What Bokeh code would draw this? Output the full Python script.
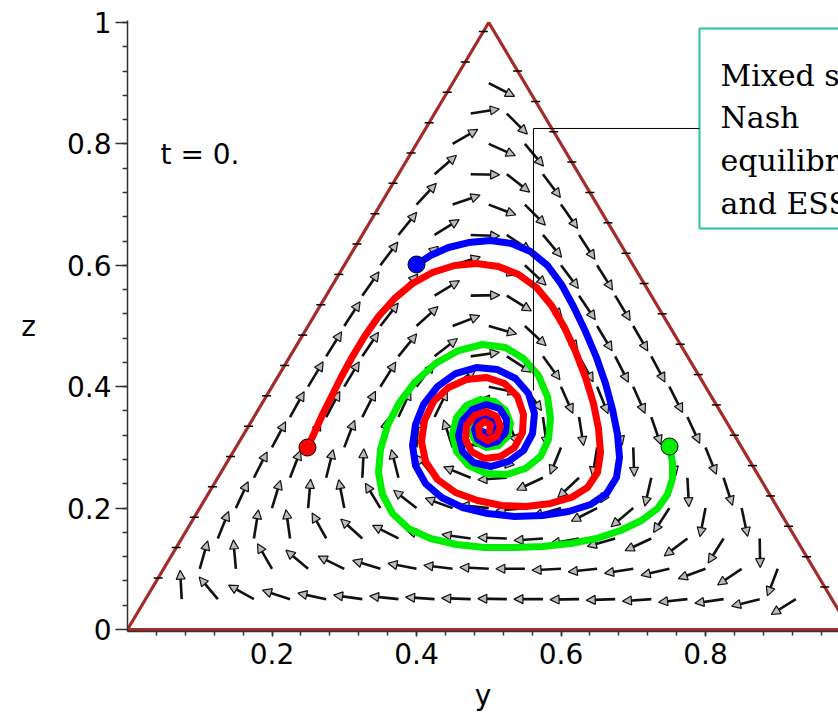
import math
from bokeh.plotting import figure
from bokeh.models import ColumnDataSource, Arrow, NormalHead, FixedTicker, Range1d
from bokeh.embed import file_html
from bokeh.resources import INLINE
from bokeh.core.properties import value

# ---------------- data ----------------
TRI_Y = [0.0, 0.5, 1.0, 0.0]
TRI_Z = [0.0, 1.0, 0.0, 0.0]

# direction field: arrow angle (degrees) for each grid row z = 0.05*c (c = 1..18), left to right
GRID_STEP = 0.05
FIELD_ANGLES = [
    [93, 130, 151, 162, 168, 172, 174, 176, 178, 179, 180, 181, 182, 184, 186, 188, 194, 212],
    [74, 95, 120, 140, 154, 163, 169, 173, 177, 180, 183, 186, 189, 193, 200, 214, 249],
    [68, 81, 98, 119, 138, 153, 164, 172, 178, 184, 190, 196, 205, 217, 238, 271],
    [65, 73, 85, 101, 121, 142, 160, 174, 185, 196, 207, 220, 237, 259, 282],
    [63, 69, 76, 87, 104, 129, 158, 184, 205, 223, 240, 257, 273, 288],
    [62, 65, 69, 76, 86, 108, 171, 226, 248, 261, 272, 283, 292],
    [61, 62, 63, 65, 64, 49, 291, 278, 279, 284, 289, 295],
    [59, 59, 58, 53, 37, 348, 305, 294, 292, 294, 297],
    [58, 56, 51, 38, 8, 327, 306, 299, 297, 298],
    [57, 52, 42, 21, 344, 317, 305, 301, 300],
    [55, 48, 31, 1, 328, 311, 304, 301],
    [53, 41, 17, 341, 317, 307, 302],
    [51, 32, 358, 326, 310, 303],
    [47, 19, 339, 315, 305],
    [41, 359, 322, 307],
    [30, 336, 310],
    [9, 315],
    [333],
]

# small boundary marks on the two slanted edges (z values)
LEFT_MARK_Z = [0.985, 0.935, 0.885, 0.835, 0.785, 0.735, 0.685, 0.635, 0.585, 0.535,
               0.485, 0.435, 0.385, 0.335, 0.285, 0.235, 0.185, 0.135, 0.085]
RIGHT_MARK_Z = [0.92, 0.87, 0.82, 0.77, 0.72, 0.67, 0.62, 0.57, 0.52, 0.47,
                0.42, 0.37, 0.32, 0.27, 0.22, 0.17, 0.12, 0.07]

BLUE_Y = [0.4000, 0.4194, 0.4443, 0.4720, 0.5024, 0.5315, 0.5578, 0.5813, 0.6007, 0.6173,
          0.6339, 0.6491, 0.6616, 0.6713, 0.6782, 0.6810, 0.6768, 0.6630, 0.6408, 0.6104,
          0.5744, 0.5356, 0.4983, 0.4637, 0.4346, 0.4125, 0.3986, 0.3945, 0.3986, 0.4097,
          0.4291, 0.4540, 0.4830, 0.5121, 0.5370, 0.5550, 0.5633, 0.5606, 0.5481, 0.5273,
          0.5024, 0.4789, 0.4637, 0.4581, 0.4637, 0.4775, 0.4969, 0.5149, 0.5246, 0.5232,
          0.5121, 0.4969, 0.4844, 0.4803, 0.4858, 0.4969, 0.5066, 0.5080, 0.4997, 0.4913]
BLUE_Z = [0.6013, 0.6161, 0.6293, 0.6375, 0.6408, 0.6359, 0.6227, 0.5997, 0.5684, 0.5321,
          0.4909, 0.4481, 0.4053, 0.3624, 0.3212, 0.2834, 0.2504, 0.2240, 0.2059, 0.1944,
          0.1878, 0.1862, 0.1911, 0.2010, 0.2175, 0.2405, 0.2702, 0.3031, 0.3377, 0.3707,
          0.4003, 0.4217, 0.4316, 0.4283, 0.4135, 0.3888, 0.3558, 0.3229, 0.2949, 0.2768,
          0.2685, 0.2751, 0.2932, 0.3196, 0.3443, 0.3624, 0.3707, 0.3641, 0.3460, 0.3245,
          0.3097, 0.3048, 0.3130, 0.3295, 0.3443, 0.3492, 0.3427, 0.3295, 0.3212, 0.3262]

RED_Y = [0.2491, 0.2588, 0.2699, 0.2824, 0.2962, 0.3114, 0.3280, 0.3474, 0.3696, 0.3945,
         0.4221, 0.4526, 0.4830, 0.5135, 0.5412, 0.5661, 0.5869, 0.6048, 0.6201, 0.6339,
         0.6450, 0.6519, 0.6547, 0.6505, 0.6367, 0.6145, 0.5855, 0.5523, 0.5177, 0.4844,
         0.4540, 0.4291, 0.4125, 0.4069, 0.4111, 0.4235, 0.4443, 0.4692, 0.4969, 0.5218,
         0.5398, 0.5481, 0.5467, 0.5356, 0.5163, 0.4941, 0.4761, 0.4678, 0.4692, 0.4803,
         0.4969, 0.5107, 0.5163, 0.5107, 0.4983, 0.4872, 0.4858, 0.4941, 0.5024, 0.5010]
RED_Z = [0.2998, 0.3245, 0.3542, 0.3838, 0.4168, 0.4497, 0.4827, 0.5156, 0.5453, 0.5700,
         0.5881, 0.5997, 0.6029, 0.5980, 0.5848, 0.5634, 0.5338, 0.4975, 0.4580, 0.4151,
         0.3723, 0.3311, 0.2916, 0.2586, 0.2339, 0.2175, 0.2076, 0.2026, 0.2043, 0.2125,
         0.2257, 0.2471, 0.2768, 0.3097, 0.3443, 0.3756, 0.3987, 0.4119, 0.4151, 0.4053,
         0.3838, 0.3542, 0.3245, 0.2998, 0.2850, 0.2817, 0.2932, 0.3130, 0.3361, 0.3525,
         0.3591, 0.3509, 0.3344, 0.3179, 0.3114, 0.3196, 0.3344, 0.3427, 0.3377, 0.3262]

GREEN_Y = [0.7502, 0.7543, 0.7543, 0.7474, 0.7336, 0.7114, 0.6824, 0.6491, 0.6132, 0.5744,
           0.5343, 0.4941, 0.4554, 0.4194, 0.3889, 0.3668, 0.3529, 0.3474, 0.3502, 0.3599,
           0.3765, 0.3986, 0.4263, 0.4581, 0.4913, 0.5232, 0.5481, 0.5689, 0.5813, 0.5855,
           0.5827, 0.5716, 0.5509, 0.5246, 0.4969, 0.4720, 0.4554, 0.4498, 0.4554, 0.4692,
           0.4886, 0.5080, 0.5232, 0.5301, 0.5260, 0.5135, 0.4969, 0.4830, 0.4747, 0.4775,
           0.4886, 0.5010, 0.5093, 0.5080, 0.4997, 0.4927]
GREEN_Z = [0.3015, 0.2751, 0.2488, 0.2224, 0.1993, 0.1796, 0.1631, 0.1499, 0.1417, 0.1367,
           0.1351, 0.1351, 0.1400, 0.1499, 0.1664, 0.1911, 0.2224, 0.2586, 0.2965, 0.3361,
           0.3740, 0.4086, 0.4382, 0.4596, 0.4695, 0.4646, 0.4464, 0.4184, 0.3838, 0.3476,
           0.3130, 0.2850, 0.2652, 0.2553, 0.2570, 0.2702, 0.2932, 0.3212, 0.3492, 0.3690,
           0.3789, 0.3756, 0.3608, 0.3394, 0.3179, 0.3031, 0.2998, 0.3081, 0.3245, 0.3427,
           0.3525, 0.3509, 0.3394, 0.3262, 0.3196, 0.3245]

X_TICKS = [0.2, 0.4, 0.6, 0.8]
X_MINOR = [0.04, 0.08, 0.12, 0.16, 0.2, 0.24, 0.28, 0.32, 0.36, 0.4, 0.44, 0.48,
           0.52, 0.56, 0.6, 0.64, 0.68, 0.72, 0.76, 0.8, 0.84, 0.88, 0.92, 0.96]
Y_TICKS = [0.0, 0.2, 0.4, 0.6, 0.8, 1.0]
Y_TICK_LABELS = {0.0: "0", 0.2: "0.2", 0.4: "0.4", 0.6: "0.6", 0.8: "0.8", 1.0: "1"}
Y_MINOR = [0.04, 0.08, 0.12, 0.16, 0.2, 0.24, 0.28, 0.32, 0.36, 0.4, 0.44, 0.48,
           0.52, 0.56, 0.6, 0.64, 0.68, 0.72, 0.76, 0.8, 0.84, 0.88, 0.92, 0.96, 1.0]

X_TITLE = "y"
Y_TITLE = "z"
ANNOT_LINES = ["Mixed strategy", "Nash", "equilibrium", "and ESS"]
TIME_TEXT = "t = 0."

# ---------------- layout ----------------
W, H = 838, 714
LB, TB, BB = 127, 20, 83
FRAME_W = W - LB
FRAME_H = H - TB - BB
PX_X = 722.5   # pixels per unit of y (horizontal)
PX_Z = 607.0   # pixels per unit of z (vertical)
Z0 = -2.0 / PX_Z

p = figure(width=W, height=H,
           x_range=Range1d(0, FRAME_W / PX_X),
           y_range=Range1d(Z0, Z0 + FRAME_H / PX_Z),
           output_backend="svg", toolbar_location=None,
           min_border_left=LB, min_border_right=0,
           min_border_top=TB, min_border_bottom=BB)
p.outline_line_color = None
p.grid.visible = False
p.background_fill_color = "white"
p.border_fill_color = "white"

FONT = "DejaVu Sans"
for ax in (p.xaxis[0], p.yaxis[0]):
    ax.axis_line_color = "#333333"
    ax.axis_line_width = 1.5
    ax.major_tick_line_color = "#333333"
    ax.minor_tick_line_color = "#333333"
    ax.major_tick_line_width = 1.5
    ax.minor_tick_line_width = 1.5
    ax.major_tick_in = 0
    ax.minor_tick_in = 0
    ax.major_label_text_font = FONT
    ax.major_label_text_font_size = "28px"
    ax.major_label_text_color = "black"
    ax.axis_label_text_font = FONT
    ax.axis_label_text_font_size = "28px"
    ax.axis_label_text_font_style = "normal"
    ax.axis_label_text_color = "black"

p.xaxis.ticker = FixedTicker(ticks=X_TICKS, minor_ticks=X_MINOR)
p.xaxis.major_label_overrides = {t: str(t) for t in X_TICKS}
p.xaxis.major_tick_out = 5
p.xaxis.minor_tick_out = 4
p.xaxis.major_label_standoff = 6
p.xaxis.major_label_text_line_height = 0.9
p.xaxis.axis_label_text_line_height = 0.9
p.xaxis.axis_label_standoff = 12

p.xaxis.axis_label = X_TITLE

p.yaxis.ticker = FixedTicker(ticks=Y_TICKS, minor_ticks=Y_MINOR)
p.yaxis.major_label_overrides = Y_TICK_LABELS
p.yaxis.major_tick_out = 12
p.yaxis.minor_tick_out = 5
p.yaxis.major_label_standoff = 4
p.yaxis.axis_label = Y_TITLE
p.yaxis.axis_label_orientation = "horizontal"
p.yaxis.axis_label_standoff = 28

# vector field arrows
xs, ys, xe, ye = [], [], [], []
ARROW_PX = 29
for ci, row in enumerate(FIELD_ANGLES):
    c = ci + 1
    for bi, ang in enumerate(row):
        b = bi + 1
        a = 20 - b - c
        h = 0.5 + (b - a) * GRID_STEP / 2
        z = c * GRID_STEP
        t = math.radians(ang)
        xs.append(h)
        ys.append(z)
        xe.append(h + ARROW_PX * math.cos(t) / PX_X)
        ye.append(z + ARROW_PX * math.sin(t) / PX_Z)
asrc = ColumnDataSource(dict(xs=xs, ys=ys, xe=xe, ye=ye))
arrows = Arrow(x_start="xs", y_start="ys", x_end="xe", y_end="ye", source=asrc,
               line_color="#111111", line_width=2.6, level="underlay",
               end=NormalHead(size=9, fill_color="#bbbbbb", line_color="#111111", line_width=1.2))
p.add_layout(arrows)

# triangle
p.line(TRI_Y, TRI_Z, line_color="#a52a2a", line_width=3.2)

# boundary marks
p.scatter([z / 2 for z in LEFT_MARK_Z], LEFT_MARK_Z, marker="dash", size=9,
          line_color="black", line_width=1.5)
p.scatter([1 - z / 2 for z in RIGHT_MARK_Z], RIGHT_MARK_Z, marker="dash", size=9,
          line_color="black", line_width=1.5)

# trajectories
for ys_, zs_, col in ((GREEN_Y, GREEN_Z, "#00ee00"), (BLUE_Y, BLUE_Z, "#0000ff"), (RED_Y, RED_Z, "#ff0000")):
    p.line(ys_, zs_, line_color=col, line_width=7, line_join="round", line_cap="round")
p.scatter([RED_Y[0], BLUE_Y[0], GREEN_Y[0]], [RED_Z[0], BLUE_Z[0], GREEN_Z[0]], size=17,
          fill_color=["#ff0000", "#0000ff", "#00ee00"], line_color="black", line_width=1)

# time label
p.text(x=[0.0457], y=[0.7825], text=[TIME_TEXT], text_font=value(FONT), text_font_size="28px",
       text_baseline="alphabetic", text_color="black")

# annotation box + connector
p.quad(left=[0.7917], right=[1.4], bottom=[0.6606], top=[0.9901], fill_color="white",
       line_color="#1fc79f", line_width=2)
p.line([0.7917, 0.5619, 0.5619], [0.8254, 0.8254, 0.3937], line_color="black", line_width=1)
p.text(x=[0.8208] * 4, y=[0.9127, 0.8435, 0.7727, 0.7018], text=ANNOT_LINES,
       text_font=value("DejaVu Serif"), text_font_size="30px", text_baseline="alphabetic",
       text_color="black")

open("out.html", "w").write(file_html(p, INLINE))
